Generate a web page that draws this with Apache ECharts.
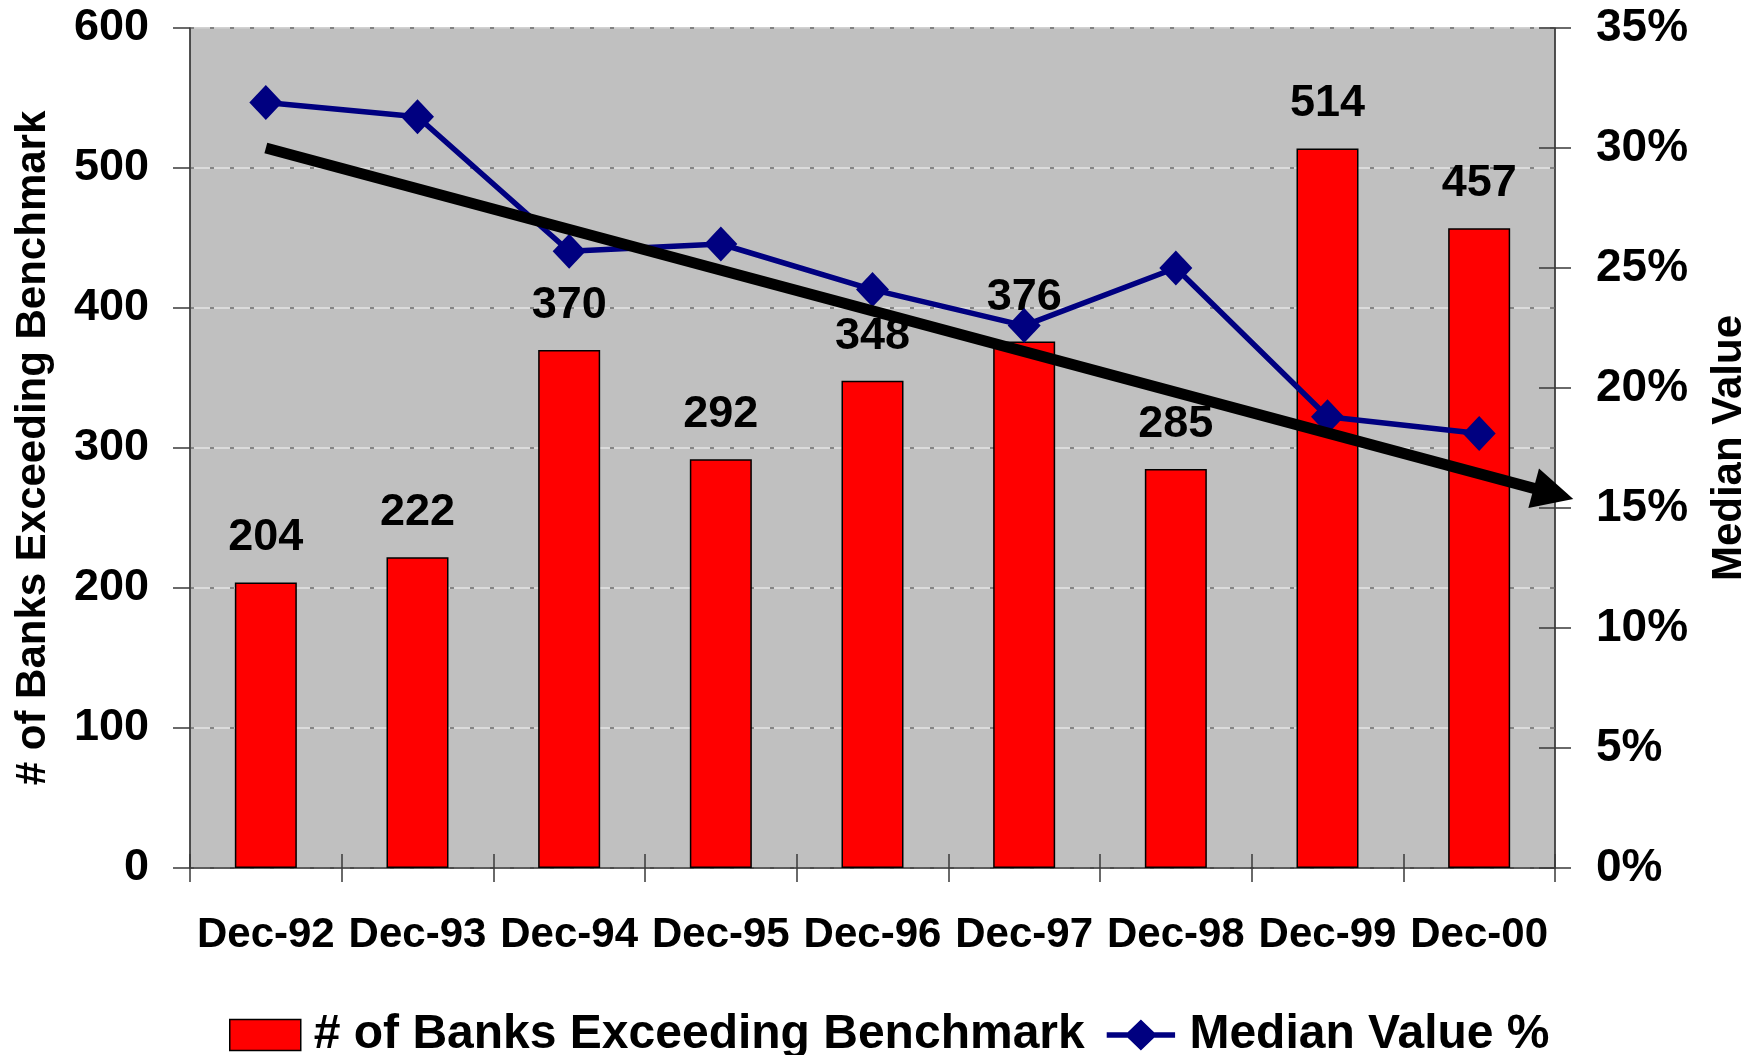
<!DOCTYPE html>
<html>
<head>
<meta charset="utf-8">
<script src="https://cdn.jsdelivr.net/npm/echarts@6/dist/echarts.min.js"></script>
<style>
  html, body { margin: 0; padding: 0; background: #ffffff; }
  #chart { width: 1754px; height: 1055px; }
</style>
</head>
<body>
<div id="chart"></div>
<script>
// Year-end snapshots
const categories = ['Dec-92', 'Dec-93', 'Dec-94', 'Dec-95', 'Dec-96', 'Dec-97', 'Dec-98', 'Dec-99', 'Dec-00'];
// Number of banks above the benchmark (left axis)
const banksExceeding = [204, 222, 370, 292, 348, 376, 285, 514, 457];
// Median value in percent (right axis)
const medianValuePct = [31.9, 31.3, 25.7, 26.0, 24.1, 22.6, 25.0, 18.8, 18.1];
// Axis scales
const countAxis = { min: 0, max: 600, interval: 100 };
const pctAxis = { min: 0, max: 35, interval: 5 };
// Downward trend arrow: [category position, percent]
const trendStart = [0, 30.0];
const trendEnd = [8.49, 15.6];

const FONT = 'Liberation Sans, Arial, Helvetica, sans-serif';
const AXIS_COLOR = '#3a3a3a';
// legend glyph for the median series: thick line with a diamond in the middle
const LINE_DIAMOND_ICON = 'path://M0,14 L23,14 L37.5,0 L52,14 L75,14 L75,20 L52,20 L37.5,34 L23,20 L0,20 Z';

const chart = echarts.init(document.getElementById('chart'), null, { renderer: 'canvas' });

function buildOption(arrowRotate) {
  return {
    animation: false,
    backgroundColor: '#ffffff',
    textStyle: { fontFamily: FONT },
    grid: {
      left: 190, right: 199, top: 28, bottom: 187,
      outerBoundsMode: 'none',
      containLabel: false,
      show: true,
      backgroundColor: '#C0C0C0',
      borderColor: AXIS_COLOR,
      borderWidth: 1
    },
    legend: {
      left: 224,
      top: 1006,
      itemWidth: 71,
      itemHeight: 31,
      itemGap: 22,
      textStyle: {
        fontFamily: FONT, fontWeight: 'bold', fontSize: 48, color: '#000',
        padding: [0, 0, 0, 8]
      },
      data: [
        { name: '# of Banks Exceeding Benchmark', icon: 'rect', itemStyle: { color: '#FF0000', borderColor: '#000', borderWidth: 1.5 } },
        { name: 'Median Value %', icon: LINE_DIAMOND_ICON, itemStyle: { color: '#000080', borderWidth: 0 } }
      ]
    },
    xAxis: [
      {
        type: 'category',
        data: categories,
        position: 'bottom',
        axisLine: { show: true, onZero: false, lineStyle: { color: AXIS_COLOR, width: 1.5 } },
        axisTick: { show: true, length: 14, lineStyle: { color: AXIS_COLOR, width: 1.5 } },
        axisLabel: { interval: 0, margin: 46, fontFamily: FONT, fontWeight: 'bold', fontSize: 42, color: '#000' },
        splitLine: { show: false }
      },
      {
        // inner half of the crossing category ticks
        type: 'category',
        data: categories,
        position: 'bottom',
        axisLine: { show: false, onZero: false },
        axisTick: { show: true, inside: true, length: 14, lineStyle: { color: AXIS_COLOR, width: 1.5 } },
        axisLabel: { show: false },
        splitLine: { show: false }
      },
      {
        // continuous positions across the categories for the trend arrow
        type: 'value',
        min: -0.5, max: 8.5,
        show: false,
        axisLine: { onZero: false }
      }
    ],
    yAxis: [
      {
        type: 'value',
        position: 'left',
        min: countAxis.min, max: countAxis.max, interval: countAxis.interval,
        name: '# of Banks Exceeding Benchmark',
        nameLocation: 'middle',
        nameRotate: 90,
        nameGap: 136,
        nameTextStyle: { fontFamily: FONT, fontWeight: 'bold', fontSize: 42, color: '#000' },
        axisLine: { show: true, onZero: false, lineStyle: { color: AXIS_COLOR, width: 1.5 } },
        axisTick: { show: true, length: 17, lineStyle: { color: AXIS_COLOR, width: 1.5 } },
        axisLabel: { margin: 41, fontFamily: FONT, fontWeight: 'bold', fontSize: 45, color: '#000' },
        splitLine: { show: true, lineStyle: { color: '#E4E4E4', width: 1.5, type: 'solid' } }
      },
      {
        type: 'value',
        position: 'right',
        min: pctAxis.min, max: pctAxis.max, interval: pctAxis.interval,
        name: 'Median Value',
        nameLocation: 'middle',
        nameRotate: 90,
        nameGap: 153,
        nameTextStyle: { fontFamily: FONT, fontWeight: 'bold', fontSize: 42, color: '#000' },
        axisLine: { show: true, onZero: false, lineStyle: { color: AXIS_COLOR, width: 1.5 } },
        axisTick: { show: true, length: 16, lineStyle: { color: AXIS_COLOR, width: 1.5 } },
        axisLabel: { margin: 41, formatter: '{value}%', fontFamily: FONT, fontWeight: 'bold', fontSize: 46, color: '#000' },
        splitLine: { show: false }
      },
      {
        // dark dashes laid over the light gridlines
        type: 'value',
        position: 'left',
        min: countAxis.min, max: countAxis.max, interval: countAxis.interval,
        axisLine: { show: false, onZero: false },
        axisTick: { show: false },
        axisLabel: { show: false },
        splitLine: { show: true, lineStyle: { color: '#6a6a6a', width: 1.5, type: [4, 16] } }
      },
      {
        // inner half of the crossing percent ticks
        type: 'value',
        position: 'right',
        min: pctAxis.min, max: pctAxis.max, interval: pctAxis.interval,
        axisLine: { show: false, onZero: false },
        axisTick: { show: true, inside: true, length: 16, lineStyle: { color: AXIS_COLOR, width: 1.5 } },
        axisLabel: { show: false },
        splitLine: { show: false }
      }
    ],
    series: [
      {
        name: '# of Banks Exceeding Benchmark',
        type: 'bar',
        xAxisIndex: 0,
        yAxisIndex: 0,
        data: banksExceeding,
        barWidth: 62,
        itemStyle: { color: '#FF0000', borderColor: '#000000', borderWidth: 1.5 },
        label: {
          show: true,
          position: 'top',
          distance: 22,
          fontFamily: FONT, fontWeight: 'bold', fontSize: 45, color: '#000'
        },
        z: 2
      },
      {
        name: 'Median Value %',
        type: 'line',
        xAxisIndex: 0,
        yAxisIndex: 1,
        data: medianValuePct,
        symbol: 'diamond',
        symbolSize: [33, 35],
        lineStyle: { color: '#000080', width: 5.5 },
        itemStyle: { color: '#000080' },
        z: 3
      },
      {
        name: 'trend',
        type: 'line',
        xAxisIndex: 2,
        yAxisIndex: 1,
        data: [
          { value: trendStart, symbol: 'none' },
          { value: trendEnd, symbol: 'triangle', symbolSize: 41, symbolRotate: arrowRotate }
        ],
        showSymbol: true,
        symbol: 'none',
        lineStyle: { color: '#000000', width: 11, cap: 'butt' },
        itemStyle: { color: '#000000' },
        silent: true,
        clip: false,
        z: 4
      }
    ]
  };
}

chart.setOption(buildOption(0));
// orient the arrowhead along the trend line using the laid-out scales
const p0 = chart.convertToPixel({ xAxisIndex: 2, yAxisIndex: 1 }, trendStart);
const p1 = chart.convertToPixel({ xAxisIndex: 2, yAxisIndex: 1 }, trendEnd);
const angleDeg = Math.atan2(p1[1] - p0[1], p1[0] - p0[0]) * 180 / Math.PI;
chart.setOption(buildOption(-(90 + angleDeg)));
</script>
</body>
</html>
